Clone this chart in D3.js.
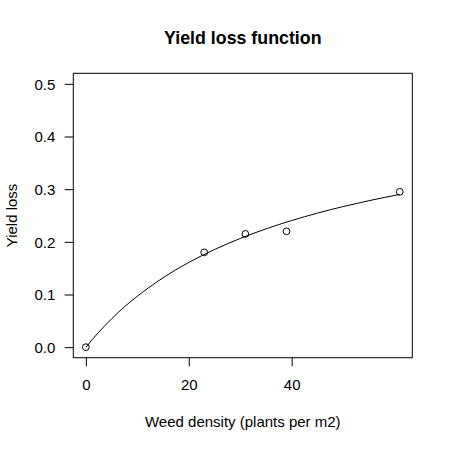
<!DOCTYPE html>
<html>
<head>
<meta charset="utf-8">
<script src="https://cdn.jsdelivr.net/npm/d3@7"></script>
<style>
  html, body { margin: 0; padding: 0; background: #fff; }
  text { font-family: "Liberation Sans", Arial, Helvetica, sans-serif; fill: #000; }
</style>
</head>
<body>
<svg id="chart" width="450" height="450"></svg>
<script>
// Observed data points
const density = [0, 23, 31, 39, 61];
const yieldLoss = [0, 0.18, 0.215, 0.22, 0.295];

// Fitted yield loss curve
const curveDensity = [0, 2.5, 5, 7.5, 10, 15, 20, 25, 30, 35, 40, 45, 50, 55, 61];
const curveLoss = [0, 0.0284, 0.0538, 0.0767, 0.0967, 0.1317, 0.1608, 0.1854, 0.2064, 0.2246, 0.2405, 0.2545, 0.2670, 0.2781, 0.2900];

const xTicks = [0, 20, 40];
const yTicks = [0.0, 0.1, 0.2, 0.3, 0.4, 0.5];

const titleText = "Yield loss function";
const xLabel = "Weed density (plants per m2)";
const yLabel = "Yield loss";

const svg = d3.select("#chart");
const pLeft = 73.3, pRight = 412.3, pTop = 73.3, pBottom = 357.7;
const baseFont = "15px";

// R-style 4% padding
const xMin = 0, xMax = 61, yMin = 0, yMax = 0.5;
const xp = (xMax - xMin) * 0.04, yp = (yMax - yMin) * 0.04;
const x = d3.scaleLinear().domain([xMin - xp, xMax + xp]).range([pLeft, pRight]);
const y = d3.scaleLinear().domain([yMin - yp, yMax + yp]).range([pBottom, pTop]);

// Box
svg.append("rect")
  .attr("x", pLeft).attr("y", pTop)
  .attr("width", pRight - pLeft).attr("height", pBottom - pTop)
  .attr("fill", "none").attr("stroke", "#000").attr("stroke-width", 1);

// X axis
const xAxis = d3.axisBottom(x).tickValues(xTicks).tickSize(8.6).tickPadding(14)
  .tickFormat(d3.format("d"));
const gx = svg.append("g").attr("transform", `translate(0,${pBottom})`).call(xAxis);
gx.select(".domain").remove();
gx.selectAll(".tick line").attr("stroke", "#000");
gx.selectAll(".tick text")
  .attr("font-size", baseFont)
  .attr("font-family", "Liberation Sans, Arial, sans-serif")
  .attr("fill", "#000")
  .attr("dy", null).attr("y", 32.5);

// Y axis
const yAxis = d3.axisLeft(y).tickValues(yTicks).tickSize(8.6).tickPadding(10)
  .tickFormat(d3.format(".1f"));
const gy = svg.append("g").attr("transform", `translate(${pLeft},0)`).call(yAxis);
gy.select(".domain").remove();
gy.selectAll(".tick line").attr("stroke", "#000");
gy.selectAll(".tick text")
  .attr("font-size", baseFont)
  .attr("font-family", "Liberation Sans, Arial, sans-serif")
  .attr("fill", "#000")
  .attr("x", -18)
  .attr("dy", "0.36em");

// Curve
const line = d3.line()
  .x((d, i) => x(curveDensity[i]))
  .y(d => y(d))
  .curve(d3.curveMonotoneX);
svg.append("path")
  .datum(curveLoss)
  .attr("d", line)
  .attr("fill", "none")
  .attr("stroke", "#000")
  .attr("stroke-width", 1);

// Points
svg.selectAll("circle.pt")
  .data(density)
  .enter().append("circle")
  .attr("class", "pt")
  .attr("cx", d => x(d))
  .attr("cy", (d, i) => y(yieldLoss[i]))
  .attr("r", 3.4)
  .attr("fill", "none")
  .attr("stroke", "#000")
  .attr("stroke-width", 1);

// Title
svg.append("text")
  .attr("x", (pLeft + pRight) / 2).attr("y", 44)
  .attr("text-anchor", "middle")
  .attr("font-size", "17.8px").attr("font-weight", "bold")
  .text(titleText);

// Axis labels
svg.append("text")
  .attr("x", (pLeft + pRight) / 2).attr("y", 426.7)
  .attr("text-anchor", "middle")
  .attr("font-size", baseFont)
  .text(xLabel);

svg.append("text")
  .attr("transform", `translate(16.7,${(pTop + pBottom) / 2}) rotate(-90)`)
  .attr("text-anchor", "middle")
  .attr("font-size", baseFont)
  .text(yLabel);
</script>
</body>
</html>
